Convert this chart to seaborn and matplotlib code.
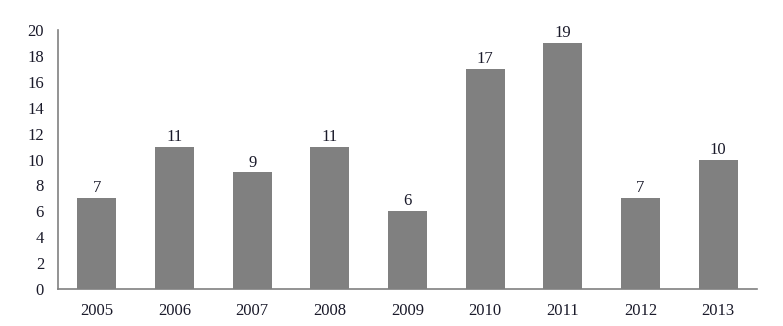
import matplotlib
matplotlib.use("Agg")
import matplotlib.pyplot as plt
import seaborn as sns
import pandas as pd

years = ["2005", "2006", "2007", "2008", "2009", "2010", "2011", "2012", "2013"]
counts = [7, 11, 9, 11, 6, 17, 19, 7, 10]
yticks = [0, 2, 4, 6, 8, 10, 12, 14, 16, 18, 20]

sns.set_theme(style="white")
plt.rcParams['font.family'] = ['Liberation Serif', 'DejaVu Serif']

df = pd.DataFrame({"year": years, "count": counts})

fig = plt.figure(figsize=(7.83, 3.26), dpi=100)
ax = fig.add_axes([58/783, 37/326, (757-58)/783, (289-30)/326])
sns.barplot(data=df, x="year", y="count", color="#808080", saturation=1,
            width=0.5, ax=ax)
for p in ax.patches:
    p.set_edgecolor("none")

txtc = "#1a1a2a"
for i, v in enumerate(counts):
    ax.text(i, v + 0.15, str(v), ha="center", va="bottom", fontsize=12, color=txtc)

ax.set_ylim(0, 20)
ax.set_xlim(-0.5, len(years) - 0.5)
ax.set_yticks(yticks)
ax.set_yticklabels([str(t) for t in yticks])
ax.set_xlabel("")
ax.set_ylabel("")
ax.tick_params(axis="both", length=0, labelsize=12, labelcolor=txtc)
ax.tick_params(axis="y", pad=10)
ax.tick_params(axis="x", pad=10)
for s in ["top", "right"]:
    ax.spines[s].set_visible(False)
for s in ["left", "bottom"]:
    ax.spines[s].set_color("#808080")
    ax.spines[s].set_linewidth(1.2)

fig.savefig("out.png", dpi=100)
